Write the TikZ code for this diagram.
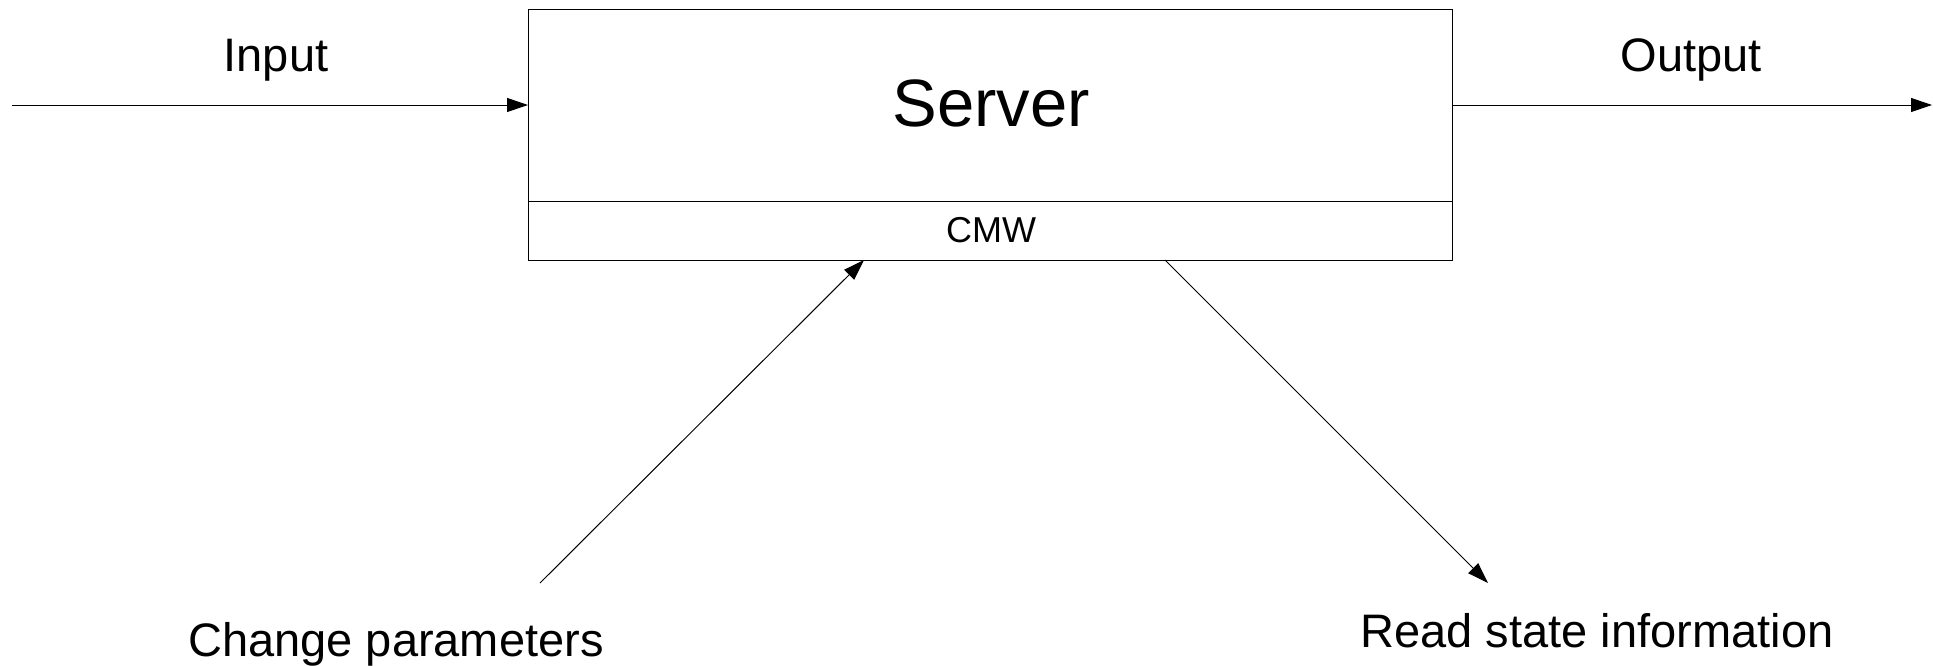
\documentclass[tikz,border=0pt]{standalone}
\usepackage{fontspec}
\setmainfont{Liberation Sans}
\usetikzlibrary{arrows.meta}
\begin{document}
\begin{tikzpicture}[x=1pt,y=-1pt,
  conn/.style={line width=1pt,-{Triangle[length=21pt,width=14pt]}},
  boxline/.style={line width=1.3pt},
  lbl/.style={inner sep=0pt,anchor=base},
  big/.style={font=\fontsize{47}{50}\selectfont},
]
\useasboundingbox (0,0) rectangle (1933,665);
% server box
\node[draw,boxline,minimum width=924pt,minimum height=192pt,inner sep=0pt,anchor=north west] (server) at (528,8.5) {};
\node[draw,boxline,minimum width=924pt,minimum height=59pt,inner sep=0pt,anchor=north west] (cmw) at (528,200.5) {};
\node[lbl,font=\fontsize{67}{70}\selectfont] (servertxt) at (991,126) {Server};
\node[lbl,font=\fontsize{36}{40}\selectfont] (cmwtxt) at (991,242) {CMW};
% coordinates
\coordinate (inStart) at (12,105);
\coordinate (inEnd) at (528,105);
\coordinate (outStart) at (1452,105);
\coordinate (outEnd) at (1932,105);
\coordinate (cpStart) at (540,583);
\coordinate (cpEnd) at (864,260);
\coordinate (rsStart) at (1165,260);
\coordinate (rsEnd) at (1488,583);
% connectors
\draw[conn] (inStart) -- (inEnd);
\draw[conn] (outStart) -- (outEnd);
\draw[conn] (cpStart) -- (cpEnd);
\draw[conn] (rsStart) -- (rsEnd);
% labels
\node[lbl,big] (input) at (276,71) {Input};
\node[lbl,big] (output) at (1691,71) {Output};
\node[lbl,big] (change) at (396,656) {Change parameters};
\node[lbl,big] (read) at (1597,647) {Read state information};
\end{tikzpicture}
\end{document}
